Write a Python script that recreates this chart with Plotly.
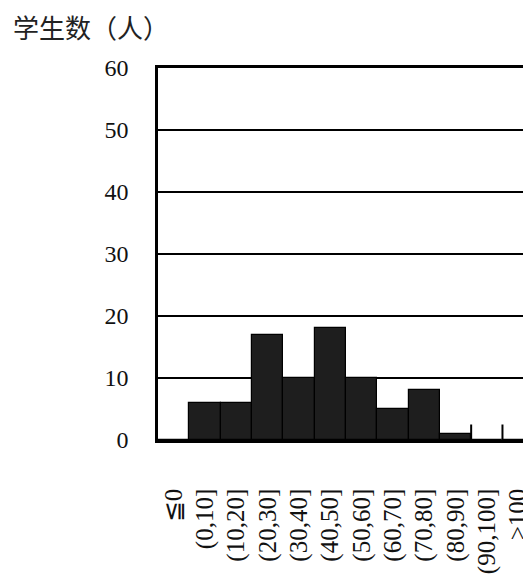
import plotly.graph_objects as go

categories = ["≦0", "(0,10]", "(10,20]", "(20,30]", "(30,40]", "(40,50]",
              "(50,60]", "(60,70]", "(70,80]", "(80,90]", "(90,100]", ">100"]
students = [0, 6, 6, 17, 10, 18, 10, 5, 8, 1, 0, 0]
y_ticks = [0, 10, 20, 30, 40, 50, 60]
y_title = "学生数（人）"

# page body has an 8px margin, so the figure is laid out 8px in from the corner
OFF = 8
W, H = 531 - OFF, 574 - OFF
L, R, T = 158 - OFF, 0, 68 - OFF
B = H - (445 - OFF)
cat_px = 31.4
plot_w = W - L - R
x_max = -0.5 + plot_w / cat_px

fig = go.Figure()
fig.add_trace(go.Bar(
    x=categories, y=students,
    marker=dict(color="#1e1e1e", line=dict(color="#000000", width=1.2)),
    showlegend=False,
))

# small tick marks at left edges of empty classes after the data
shapes = []
for i, v in enumerate(students):
    if i > 0 and v == 0:
        shapes.append(dict(type="line", xref="x", yref="y",
                           x0=i - 0.5, x1=i - 0.5, y0=0, y1=2.5,
                           line=dict(color="#000000", width=2)))

fig.update_layout(
    width=W, height=H,
    margin=dict(l=L, r=R, t=T, b=B),
    paper_bgcolor="white", plot_bgcolor="white",
    bargap=0,
    shapes=shapes,
    title=dict(text=y_title, xref="container", yref="container",
               x=(13 - OFF) / W, xanchor="left", y=1 - (29 - OFF) / H, yanchor="middle",
               font=dict(family="Noto Sans CJK SC", size=26, color="#222222")),
    font=dict(family="Liberation Serif", color="#111111"),
)
fig.update_xaxes(
    type="category", range=[-0.5, x_max],
    showline=True, linecolor="#000000", linewidth=2.5, mirror=True,
    showgrid=False, ticks="", tickangle=-90,
    tickfont=dict(family="Liberation Serif", size=25, color="#111111"),
    ticklabelstandoff=36,
)
fig.update_yaxes(
    range=[0, 60], tickvals=y_ticks,
    showline=True, linecolor="#000000", linewidth=2.5, mirror=False,
    showgrid=True, gridcolor="#000000", gridwidth=1.6,
    zeroline=False, ticks="",
    tickfont=dict(family="Liberation Serif", size=24, color="#111111"),
    ticklabelstandoff=22,
)

fig.write_html("out.html")
